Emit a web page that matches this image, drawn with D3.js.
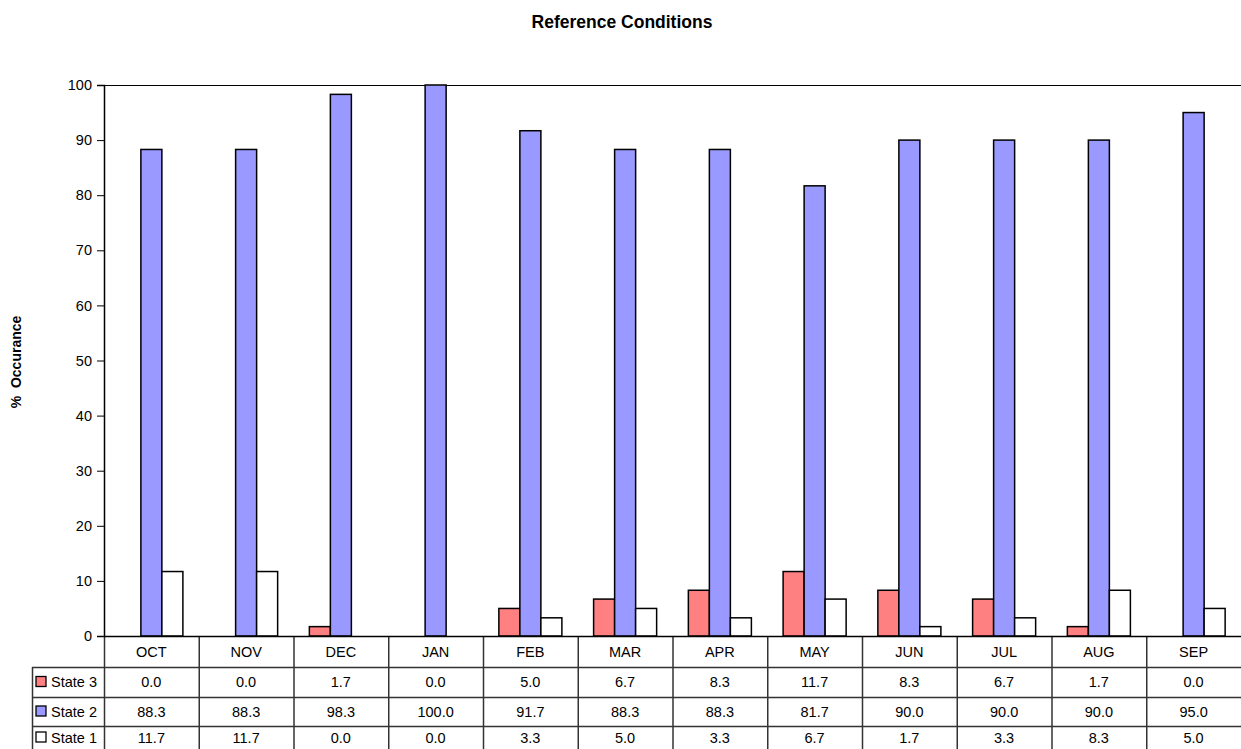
<!DOCTYPE html>
<html>
<head>
<meta charset="utf-8">
<script src="https://cdn.jsdelivr.net/npm/d3@7"></script>
<style>
  html, body { margin: 0; padding: 0; background: #fff; }
  svg { display: block; font-family: "Liberation Sans", Arial, sans-serif; }
</style>
</head>
<body>
<svg id="chart" width="1241" height="749"></svg>
<script>
// Monthly share of occurrence per state
const months = ["OCT","NOV","DEC","JAN","FEB","MAR","APR","MAY","JUN","JUL","AUG","SEP"];
const state3 = [0.0, 0.0, 1.7, 0.0, 5.0, 6.7, 8.3, 11.7, 8.3, 6.7, 1.7, 0.0];
const state2 = [88.3, 88.3, 98.3, 100.0, 91.7, 88.3, 88.3, 81.7, 90.0, 90.0, 90.0, 95.0];
const state1 = [11.7, 11.7, 0.0, 0.0, 3.3, 5.0, 3.3, 6.7, 1.7, 3.3, 8.3, 5.0];
const seriesNames = ["State 3", "State 2", "State 1"];
const yTicks = [0, 10, 20, 30, 40, 50, 60, 70, 80, 90, 100];

const series = [
  { name: seriesNames[0], values: state3, color: "#FF8080" },
  { name: seriesNames[1], values: state2, color: "#9999FF" },
  { name: seriesNames[2], values: state1, color: "#FFFFFF" }
];

const svg = d3.select("#chart");
const plot = { left: 104, right: 1241, top: 85, bottom: 636 };
const tableLeft = 32;
const rowEdges = [636, 667, 697, 726, 749];

const x = d3.scaleBand().domain(months).range([plot.left, plot.right]).paddingInner(0).paddingOuter(0);
const xs = d3.scaleBand().domain(seriesNames).range([0, x.bandwidth()]).paddingInner(0).paddingOuter(0.755);
const y = d3.scaleLinear().domain([0, 100]).range([plot.bottom, plot.top]);

// Title
svg.append("text")
  .attr("x", 622).attr("y", 28)
  .attr("text-anchor", "middle")
  .attr("font-size", 17.5).attr("font-weight", "bold")
  .text("Reference Conditions");

// Y axis title
svg.append("text")
  .attr("transform", "translate(21,362) rotate(-90)")
  .attr("text-anchor", "middle")
  .attr("font-size", 14).attr("font-weight", "bold")
  .attr("xml:space", "preserve")
  .style("white-space", "pre")
  .text("%  Occurance");

// Top border of plot area
svg.append("line")
  .attr("x1", plot.left).attr("x2", plot.right)
  .attr("y1", plot.top + 0.5).attr("y2", plot.top + 0.5)
  .attr("stroke", "#000").attr("stroke-width", 1.2);

// Bars
const groups = svg.append("g").selectAll("g")
  .data(series).join("g");
groups.selectAll("rect")
  .data(s => s.values.map((v, i) => ({ v, m: months[i], s })))
  .join("rect")
  .filter(d => d.v > 0)
  .attr("x", d => x(d.m) + xs(d.s.name))
  .attr("y", d => y(d.v))
  .attr("width", xs.bandwidth())
  .attr("height", d => y(0) - y(d.v))
  .attr("fill", d => d.s.color)
  .attr("stroke", "#000").attr("stroke-width", 1.5);

// Y axis
const yAxis = d3.axisLeft(y).tickValues(yTicks).tickSize(7).tickPadding(5).tickFormat(d3.format("d"));
const ya = svg.append("g").attr("transform", `translate(${plot.left},0)`).call(yAxis);
ya.select(".domain").attr("stroke", "#000").attr("stroke-width", 1.5);
ya.selectAll(".tick line").attr("stroke", "#000");
ya.selectAll(".tick text").attr("font-size", 14.5).attr("fill", "#000")
  .attr("font-family", "'Liberation Sans', Arial, sans-serif");

// Data table
const tbl = svg.append("g");
const gridColor = "#333";
// Horizontal rules
rowEdges.slice(1, 4).forEach(ry => {
  tbl.append("line").attr("x1", tableLeft).attr("x2", plot.right)
    .attr("y1", ry + 0.5).attr("y2", ry + 0.5)
    .attr("stroke", gridColor).attr("stroke-width", 1.5);
});
// Left edge of the legend column
tbl.append("line").attr("x1", tableLeft + 0.5).attr("x2", tableLeft + 0.5)
  .attr("y1", rowEdges[1]).attr("y2", rowEdges[4])
  .attr("stroke", gridColor).attr("stroke-width", 1.5);
// Vertical rules at month boundaries
months.forEach(m => {
  tbl.append("line").attr("x1", x(m) + 0.5).attr("x2", x(m) + 0.5)
    .attr("y1", rowEdges[0]).attr("y2", rowEdges[4])
    .attr("stroke", gridColor).attr("stroke-width", 1.5);
});
// X axis baseline
svg.append("line")
  .attr("x1", plot.left).attr("x2", plot.right)
  .attr("y1", plot.bottom + 0.5).attr("y2", plot.bottom + 0.5)
  .attr("stroke", "#000").attr("stroke-width", 1.5);

// Month headers
tbl.selectAll("text.month").data(months).join("text")
  .attr("class", "month")
  .attr("x", m => x(m) + x.bandwidth() / 2)
  .attr("y", (rowEdges[0] + rowEdges[1]) / 2 + 5)
  .attr("text-anchor", "middle").attr("font-size", 14.5)
  .text(m => m);

// Series rows
series.forEach((s, r) => {
  const top = rowEdges[r + 1];
  const bottom = rowEdges[r + 2];
  const cy = (top + bottom) / 2;
  tbl.append("rect")
    .attr("x", 36).attr("y", cy - 5.5)
    .attr("width", 10).attr("height", 10)
    .attr("fill", s.color).attr("stroke", "#000").attr("stroke-width", 1.3);
  tbl.append("text")
    .attr("x", 51).attr("y", cy + 5)
    .attr("font-size", 14.5)
    .text(s.name);
  tbl.selectAll(null).data(s.values).join("text")
    .attr("x", (v, i) => x(months[i]) + x.bandwidth() / 2)
    .attr("y", cy + 5)
    .attr("text-anchor", "middle").attr("font-size", 14.5)
    .text(v => v.toFixed(1));
});
</script>
</body>
</html>
